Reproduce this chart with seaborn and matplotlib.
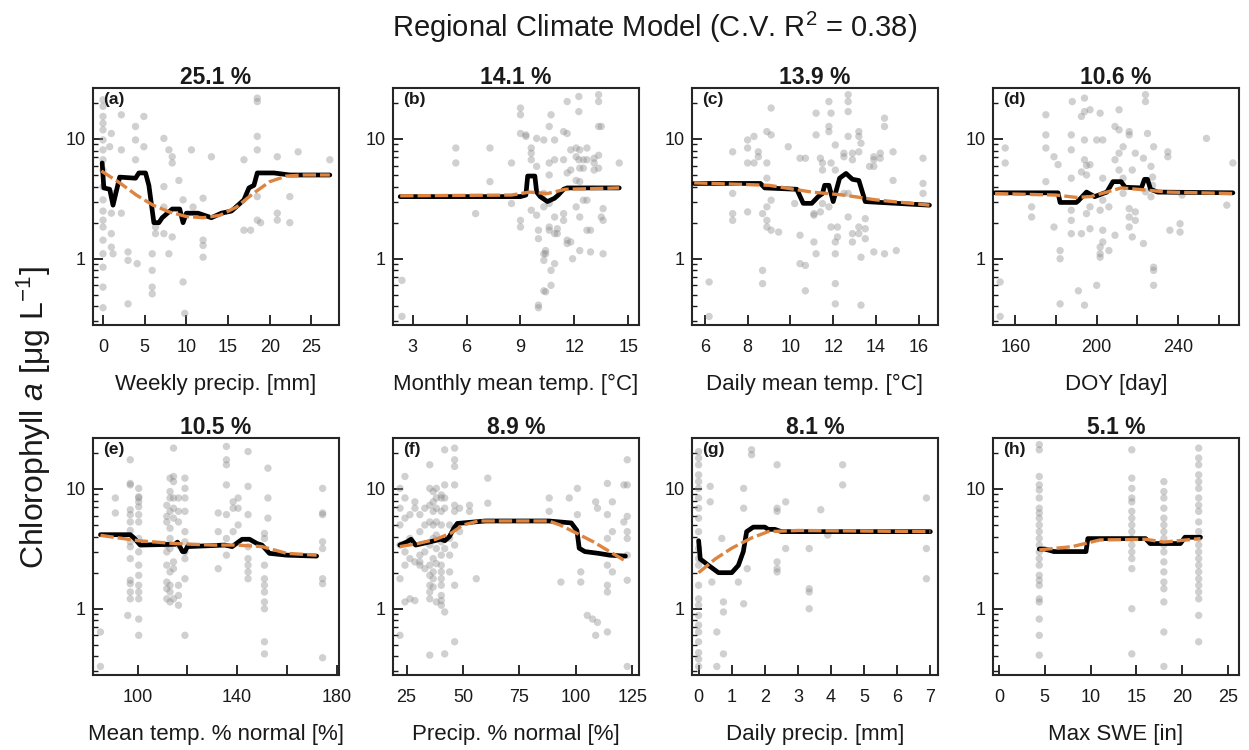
import numpy as np
import pandas as pd
import matplotlib
matplotlib.use("Agg")
import matplotlib.pyplot as plt
import seaborn as sns
from matplotlib.ticker import LogLocator, NullFormatter

# ---------------- data ----------------
SUPTITLE = "Regional Climate Model (C.V. R$^2$ = 0.38)"
YLABEL = "Chlorophyll $a$ [μg L$^{-1}$]"
LETTERS = ["(a)", "(b)", "(c)", "(d)", "(e)", "(f)", "(g)", "(h)"]
IMPORTANCE = ["25.1 %", "14.1 %", "13.9 %", "10.6 %", "10.5 %", "8.9 %", "8.1 %", "5.1 %"]
XLABELS = ["Weekly precip. [mm]", "Monthly mean temp. [°C]", "Daily mean temp. [°C]", "DOY [day]",
           "Mean temp. % normal [%]", "Precip. % normal [%]", "Daily precip. [mm]", "Max SWE [in]"]
XTICKS = [[0, 5, 10, 15, 20, 25], [3, 6, 9, 12, 15], [6, 8, 10, 12, 14, 16],
          [160, 180, 200, 220, 240, 260], [100, 120, 140, 160, 180], [25, 50, 75, 100, 125],
          [0, 1, 2, 3, 4, 5, 6, 7], [0, 5, 10, 15, 20, 25]]
XTICKLABELS = [["0", "5", "10", "15", "20", "25"], ["3", "6", "9", "12", "15"],
               ["6", "8", "10", "12", "14", "16"], ["160", "", "200", "", "240", ""],
               ["100", "", "140", "", "180"], ["25", "50", "75", "100", "125"],
               ["0", "1", "2", "3", "4", "5", "6", "7"], ["0", "5", "10", "15", "20", "25"]]

# observations: (x value, [chlorophyll values at that x])
A_PTS = [(0.0, [21.2, 18.7, 15.4, 13.5, 11.9, 9.8, 8.1, 6.7, 5.5, 4.0, 3.1, 2.5, 2.1, 1.84, 1.43, 1.10, 0.85, 0.58, 0.39]),
         (1.0, [11.1, 2.4, 1.62, 1.25]), (0.8, [8.6]), (1.2, [3.5, 1.10]),
         (2.2, [15.9, 8.1, 2.4]), (3.0, [1.14, 0.97, 0.42]), (3.9, [12.7, 9.8, 6.7]), (4.1, [0.91]),
         (4.9, [15.4, 8.6]), (5.9, [1.10, 0.80, 0.58, 0.51]), (6.3, [1.84, 1.62]),
         (7.3, [10.1, 4.0, 2.7, 1.62]), (7.9, [8.1, 1.10]), (8.3, [7.1, 6.3, 1.52]), (9.1, [4.5]),
         (9.6, [3.1, 0.64]), (9.8, [0.35]), (10.6, [8.1]), (10.8, [2.7]), (12.0, [3.2, 1.43, 1.29, 1.03]),
         (13.0, [7.1]), (16.9, [6.7, 1.73]), (17.7, [1.73]), (18.5, [21.9, 20.5, 10.5, 8.1, 3.3, 2.1]),
         (18.9, [2.0]), (20.9, [7.1, 2.4, 2.1]), (22.4, [3.3, 2.0]), (23.4, [7.8]), (27.2, [6.7])]
B_PTS = [(2.4, [0.66, 0.33]), (5.4, [8.4, 6.3]), (6.5, [2.38]), (7.3, [8.4, 4.4]), (8.5, [6.3, 2.89]),
         (9.0, [18.1, 15.9, 11.1, 2.09, 1.84]), (9.3, [10.8, 10.5]), (9.6, [8.4, 7.6, 6.7, 2.54]),
         (9.9, [10.1, 5.9, 2.31]), (10.0, [1.73, 1.47, 0.41, 0.39]), (10.3, [9.8, 3.51, 2.71, 1.10, 0.97, 0.54]),
         (10.4, [1.17, 1.10, 0.53]), (10.6, [12.7, 6.3, 5.0, 2.89, 1.84, 1.73]), (10.7, [15.9, 0.80, 0.60]),
         (10.9, [9.8, 6.7, 2.23, 1.62, 0.91]), (11.05, [1.78, 1.62]), (11.4, [11.5, 6.7, 2.38, 2.09]),
         (11.6, [20.5, 11.1, 5.2, 1.43, 1.34]), (11.8, [8.1, 5.5, 1.38]), (11.9, [1.00]),
         (12.1, [8.4, 7.1, 4.5, 2.71]), (12.25, [22.6, 16.9, 6.7]), (12.3, [8.1, 5.7, 4.4, 2.23, 1.17]),
         (12.5, [6.7, 5.7, 3.08]), (12.7, [8.4, 6.7, 3.08, 1.73]), (12.9, [1.73, 1.14]), (13.1, [6.9, 6.3, 5.5]),
         (13.35, [23.4, 20.5, 12.7, 7.3, 5.7]), (13.5, [12.7, 2.23]), (13.6, [1.10, 2.62, 2.09]), (14.5, [6.3])]
C_PTS = [(6.2, [0.64, 0.33]), (7.3, [7.8, 3.51, 2.38, 2.09]), (8.0, [9.8, 8.4, 6.3, 2.46]), (8.3, [10.5, 6.3]),
         (8.5, [7.8, 7.1]), (8.7, [2.38, 0.80, 0.62]), (8.9, [11.5, 6.3, 4.7, 2.71, 2.09, 1.84]),
         (9.1, [18.1, 10.8, 3.08, 1.73]), (9.45, [1.67]), (9.9, [8.6]), (10.2, [2.89]), (10.45, [6.9, 1.57, 0.91]),
         (10.7, [6.9, 0.88, 0.54]), (11.1, [2.38, 2.31, 1.38]), (11.2, [16.4, 10.8, 1.10]), (11.4, [6.9, 2.46]),
         (11.5, [6.3, 5.5, 2.89]), (11.8, [20.5, 12.7, 11.5, 2.71]), (11.9, [16.4, 6.3, 1.84]),
         (12.1, [8.9, 5.5, 1.38, 1.10, 0.62, 0.42]), (12.2, [1.84, 1.52]), (12.5, [7.6, 7.1, 3.51]),
         (12.7, [23.4, 20.5, 16.9, 10.5, 3.51, 2.23]), (12.9, [7.6, 6.7, 1.62, 1.38]),
         (13.2, [11.5, 10.5, 7.8, 1.84, 1.62]), (13.3, [9.2, 1.03, 0.41]), (13.5, [1.47, 1.78, 2.16]), (13.7, [5.9]),
         (13.9, [7.1, 6.7, 5.9, 1.14]), (14.2, [7.6, 6.9]), (14.4, [14.9, 12.7, 1.10]), (14.8, [7.8, 4.5]),
         (14.95, [1.17]), (16.2, [6.9, 4.25, 3.51])]
D_PTS = [(152.5, [0.64, 0.33]), (155, [8.4, 6.3]), (168, [2.71, 2.23]), (175, [15.9, 10.8, 8.4, 4.4]),
         (179, [7.1, 1.84]), (181, [6.1]), (182, [1.17, 1.00, 0.42]), (187.5, [10.8, 8.1, 4.7, 2.54, 2.09, 1.62]),
         (188, [20.5]), (191, [0.54]), (192.5, [15.4, 5.3, 1.62]), (194, [21.9, 16.9, 9.8, 6.7, 0.41]),
         (195, [6.0, 5.0, 2.38]), (196.7, [17.5, 6.1, 2.71, 1.78]), (200, [9.8, 0.60]),
         (201.7, [16.4, 2.54, 1.25, 1.10, 1.03]), (203, [9.8, 4.7, 3.08, 1.73, 1.38]), (206, [2.71, 1.17]),
         (209, [12.7, 6.7, 1.57]), (211, [17.5, 11.9, 7.6, 5.5]), (213, [8.6, 4.7, 3.51]),
         (216, [11.5, 10.8, 2.62, 2.23, 1.84]), (217.5, [5.5, 1.52]), (219, [7.6, 2.46, 2.09]), (223, [6.9, 1.34]),
         (224, [23.4, 20.5, 3.62]), (225, [11.1]), (226.7, [5.9, 3.29]), (227.5, [4.8, 4.1]),
         (228, [8.6, 0.85, 0.80, 0.60]), (235, [7.8, 7.1]), (236, [1.73]), (241, [1.96, 1.67]), (242, [3.40]),
         (254, [10.1]), (264, [2.80]), (267, [6.3])]
E_PTS = [(85, [0.64, 0.33]), (91, [8.4, 6.3]), (96, [0.88]),
         (97, [17.5, 11.1, 10.8, 6.7, 6.1, 5.3, 4.5, 3.62, 3.29, 2.62, 1.73, 1.62, 1.38, 1.21]),
         (100.4, [10.1, 8.6, 8.4, 7.8, 7.1, 6.1, 5.3, 3.86, 2.98, 2.31, 1.90, 1.57, 1.38, 1.21, 0.82, 0.60]),
         (111.7, [7.3, 5.9, 5.3, 3.40, 2.98, 2.31, 1.67, 1.47, 1.21]),
         (113, [12.3, 9.5, 8.4, 6.5, 4.7, 3.86, 3.18, 2.03, 1.57, 1.38, 1.14]),
         (114.4, [21.9, 12.7, 11.5, 8.4, 6.9, 5.7, 2.46, 2.16, 1.21]),
         (116.4, [8.4, 6.5, 5.3, 3.40, 1.57, 1.29, 1.07]),
         (119, [12.3, 10.1, 8.4, 6.5, 4.4, 3.62, 2.98, 2.62, 1.78, 0.60]),
         (132.4, [6.3, 4.4, 2.16]), (135.7, [22.6, 17.5, 15.9, 10.8, 6.1, 3.86, 2.80]), (138.4, [7.8, 6.9, 4.4]),
         (140.4, [8.4, 6.9, 5.0]), (144.4, [20.5, 10.5, 6.1, 3.29, 2.62, 2.31, 2.03, 1.78]),
         (151, [4.25, 3.86, 2.31, 1.78, 1.57, 1.38, 1.14, 1.00, 0.53, 0.42]), (152.4, [14.9, 8.4, 5.7]),
         (174.4, [10.1, 6.3, 6.1, 3.62, 3.18, 1.78, 1.62, 0.39])]
F_PTS = [(22.1, [10.1, 6.9, 5.0, 3.40, 1.78, 0.60]), (24.3, [12.7, 8.4, 5.7, 2.98, 2.31, 1.14]),
         (26.5, [6.1, 3.86, 2.62, 1.21]), (28.7, [7.8, 6.9, 2.46, 1.17]), (30.9, [6.1, 4.4, 2.80, 2.46, 2.31]),
         (33.1, [6.9, 5.0, 2.98, 2.16]), (35.3, [15.9, 10.1, 7.3, 5.3, 3.40, 2.31, 1.90, 1.57, 1.38, 1.21, 0.41]),
         (36.8, [9.5, 7.8, 6.5, 5.0, 3.86, 2.62, 2.03, 1.78, 1.52]),
         (38.2, [10.1, 8.4, 6.9, 5.3, 4.12, 3.18, 2.38, 1.14]),
         (40.4, [8.9, 8.4, 6.5, 5.0, 3.62, 2.80, 2.31, 2.03, 1.78, 1.57, 1.29, 1.17, 1.07]),
         (41.9, [21.2, 10.8, 8.4, 6.9, 3.18, 0.94, 0.42]), (44.1, [5.0, 3.86, 2.80, 2.03]),
         (46.3, [21.9, 17.5, 15.4, 10.8, 7.3, 6.5, 4.7, 3.40, 1.57, 0.53]), (48.5, [6.9, 4.4]), (52.9, [7.3, 6.5]),
         (55.9, [1.78]), (61.0, [12.3, 7.6]), (88.2, [8.4, 6.5]), (93.4, [1.67]), (97.1, [8.4]),
         (100.7, [10.1, 6.1]), (102.2, [2.03, 1.67]), (105.1, [0.88]), (107.4, [0.82]), (108.8, [7.8, 0.60]),
         (109.6, [6.9, 0.77]), (114, [11.1, 6.1, 3.86, 2.31, 1.57, 1.38, 0.64]), (116.2, [7.8, 4.4, 2.03]),
         (121.3, [10.8, 5.3]), (122.8, [17.5, 10.8, 5.9, 4.4, 3.86, 2.80, 1.73, 0.33])]
G_PTS = [(0.0, [20.5, 18.1, 15.9, 13.1, 11.5, 10.1, 8.4, 6.9, 5.7, 4.4, 3.18, 2.62, 2.31, 1.57, 1.21, 1.07,
                0.88, 0.73, 0.64, 0.53, 0.43, 0.38, 0.33]),
         (0.35, [10.5, 7.8]), (0.4, [1.67]), (0.55, [0.64, 0.33]), (0.7, [3.86]), (0.75, [1.14, 0.94, 0.42]),
         (1.2, [1.67]), (1.36, [10.1, 6.9, 1.10]), (1.47, [2.16]), (1.6, [21.2, 19.3]),
         (2.37, [15.9, 6.9, 6.5, 2.46, 2.16, 2.03]), (2.63, [7.8, 3.18]), (3.34, [3.18, 1.47, 1.38, 1.00]),
         (3.69, [6.7]), (3.9, [4.12]), (4.35, [15.9, 10.8]), (6.88, [8.4, 3.18, 1.78])]
H_PTS = [(4.4, [23.4, 21.2, 12.7, 10.8, 9.8, 8.4, 6.9, 6.3, 5.7, 5.0, 4.4, 3.86, 3.40, 2.98, 2.62, 2.31, 1.90,
                1.73, 1.57, 1.21, 1.14, 0.82, 0.60, 0.41]),
         (14.5, [21.2, 12.3, 10.1, 8.4, 7.8, 6.5, 5.7, 5.0, 4.4, 3.86, 3.40, 2.98, 2.62, 2.16, 1.00, 0.42]),
         (18.0, [11.5, 9.5, 8.4, 6.9, 5.7, 5.0, 4.4, 3.86, 3.40, 2.98, 2.46, 2.03, 1.67, 1.47, 1.14, 0.64, 0.33]),
         (21.8, [21.9, 18.1, 15.9, 13.1, 11.5, 10.1, 8.4, 7.3, 6.5, 5.3, 4.4, 3.86, 3.40, 2.98, 2.62, 2.31, 2.03,
                 1.78, 1.57, 1.38, 1.21, 0.88, 0.53])]

# partial dependence (black) and smoothed fit (orange dashed)
A_PD_X = [-0.1, 0.1, 0.8, 1.2, 2.0, 3.9, 4.3, 5.1, 5.5, 6.1, 6.7, 7.1, 8.3, 9.2, 9.6, 10.0, 11.4, 13.0, 14.2, 15.4, 16.9, 17.5, 18.1, 18.5, 20.5, 22.4, 27.2]
A_PD_Y = [6.3, 3.9, 3.8, 2.8, 4.8, 4.7, 5.2, 5.2, 4.1, 2.0, 2.0, 2.2, 2.6, 2.6, 2.0, 2.4, 2.4, 2.2, 2.4, 2.5, 3.1, 3.9, 4.1, 5.2, 5.2, 5.0, 5.0]
A_SM_X = [-0.2, 2, 4, 6, 8, 10, 12, 14, 16, 18, 20, 22, 24, 27.2]
A_SM_Y = [5.4, 4.3, 3.4, 2.8, 2.45, 2.25, 2.2, 2.3, 2.7, 3.5, 4.4, 4.9, 5.0, 5.0]
B_PD_X = [2.3, 9.0, 9.3, 9.4, 9.8, 9.9, 10.1, 10.5, 10.9, 11.1, 11.4, 11.6, 14.5]
B_PD_Y = [3.3, 3.3, 3.4, 4.9, 4.9, 3.6, 3.3, 3.0, 3.2, 3.4, 3.8, 3.9, 3.9]
B_SM_X = [2.3, 8.5, 9.5, 10.5, 11.5, 14.5]
B_SM_Y = [3.35, 3.4, 3.6, 3.5, 3.8, 3.9]
C_PD_X = [5.5, 8.6, 8.8, 10.3, 10.6, 11.0, 11.3, 11.5, 11.6, 11.8, 12.0, 12.3, 12.6, 12.9, 13.2, 13.5, 14.2, 16.5]
C_PD_Y = [4.25, 4.25, 3.9, 3.8, 2.9, 2.9, 3.3, 3.5, 4.1, 4.1, 3.0, 4.7, 5.15, 4.6, 4.5, 3.0, 2.95, 2.8]
C_SM_X = [5.5, 9, 11, 12.5, 14, 16.5]
C_SM_Y = [4.3, 4.1, 3.6, 3.4, 3.1, 2.8]
D_PD_X = [150, 181, 182, 190, 191, 195, 199, 203, 205, 208, 212, 214, 222, 223.5, 225, 226.5, 230, 267]
D_PD_Y = [3.55, 3.55, 2.95, 2.95, 3.05, 3.6, 3.3, 3.5, 3.6, 4.4, 4.4, 3.95, 3.9, 4.6, 4.6, 3.8, 3.6, 3.55]
D_SM_X = [150, 180, 190, 197, 205, 212, 220, 235, 267]
D_SM_Y = [3.5, 3.4, 3.25, 3.3, 3.6, 3.9, 3.8, 3.6, 3.5]
E_PD_X = [85, 97, 98.5, 101, 115, 116, 118, 119, 120, 135, 138, 142, 145, 148, 150, 153, 160, 172]
E_PD_Y = [4.15, 4.15, 3.9, 3.4, 3.45, 3.6, 3.0, 3.0, 3.3, 3.4, 3.3, 3.8, 3.8, 3.5, 3.4, 2.9, 2.8, 2.75]
E_SM_X = [85, 100, 115, 130, 140, 150, 160, 172]
E_SM_Y = [4.1, 3.7, 3.5, 3.4, 3.4, 3.3, 2.9, 2.8]
F_PD_X = [22, 25, 27, 29, 35, 40, 42, 44, 46, 47.5, 55, 60, 88, 98, 100.5, 101.5, 104, 110, 115, 122]
F_PD_Y = [3.4, 3.6, 3.8, 3.4, 3.6, 3.8, 3.7, 4.0, 4.7, 5.15, 5.3, 5.4, 5.4, 5.2, 4.5, 3.2, 3.0, 2.9, 2.8, 2.75]
F_SM_X = [22, 30, 38, 45, 50, 57, 88, 93, 100, 108, 115, 122]
F_SM_Y = [3.3, 3.5, 3.8, 4.3, 5.0, 5.4, 5.4, 5.0, 4.3, 3.6, 3.0, 2.5]
G_PD_X = [0.0, 0.05, 0.3, 0.6, 1.0, 1.2, 1.35, 1.45, 1.65, 2.0, 2.1, 2.3, 2.5, 7.0]
G_PD_Y = [3.7, 2.6, 2.3, 2.0, 2.0, 2.3, 3.0, 4.4, 4.8, 4.8, 4.6, 4.6, 4.4, 4.4]
G_SM_X = [0.0, 0.5, 1.0, 1.6, 2.1, 3.0, 7.0]
G_SM_Y = [2.0, 2.6, 3.2, 3.9, 4.4, 4.5, 4.4]
H_PD_X = [4.4, 5.0, 6.0, 9.5, 9.7, 16.0, 16.5, 19.8, 20.3, 22.0]
H_PD_Y = [3.15, 3.15, 3.0, 3.0, 3.85, 3.85, 3.5, 3.5, 3.95, 3.95]
H_SM_X = [4.4, 8, 11, 16, 18, 22]
H_SM_Y = [3.1, 3.3, 3.75, 3.8, 3.6, 3.85]

PTS = [A_PTS, B_PTS, C_PTS, D_PTS, E_PTS, F_PTS, G_PTS, H_PTS]
PD = [(A_PD_X, A_PD_Y), (B_PD_X, B_PD_Y), (C_PD_X, C_PD_Y), (D_PD_X, D_PD_Y),
      (E_PD_X, E_PD_Y), (F_PD_X, F_PD_Y), (G_PD_X, G_PD_Y), (H_PD_X, H_PD_Y)]
SM = [(A_SM_X, A_SM_Y), (B_SM_X, B_SM_Y), (C_SM_X, C_SM_Y), (D_SM_X, D_SM_Y),
      (E_SM_X, E_SM_Y), (F_SM_X, F_SM_Y), (G_SM_X, G_SM_Y), (H_SM_X, H_SM_Y)]

# ---------------- layout / style ----------------
XLIMS = [(-1.2, 28.3), (1.9, 15.6), (5.4, 16.9), (149, 270), (82, 181), (19, 128), (-0.2, 7.23), (-0.65, 26.2)]
YLIM = (0.28, 26.6)
W, H = 1249, 750
LEFTS = [93, 393, 692, 993]
TOPS = [88, 438]
AX_W, AX_H = 246, 237

sns.set_style("ticks")
plt.rcParams["font.family"] = ["Liberation Sans", "DejaVu Sans"]
plt.rcParams["mathtext.fontset"] = "custom"
plt.rcParams["mathtext.rm"] = "Liberation Sans"
plt.rcParams["mathtext.it"] = "Liberation Sans:italic"
plt.rcParams["mathtext.bf"] = "Liberation Sans:bold"

fig = plt.figure(figsize=(W / 100, H / 100), dpi=100)

for i in range(8):
    r, c = divmod(i, 4)
    ax = fig.add_axes([LEFTS[c] / W, 1 - (TOPS[r] + AX_H) / H, AX_W / W, AX_H / H])
    xs, ys = [], []
    for xv, yl in PTS[i]:
        for yv in yl:
            xs.append(xv)
            ys.append(yv)
    df = pd.DataFrame({"x": xs, "y": ys})
    sns.scatterplot(data=df, x="x", y="y", ax=ax, color="#8f8f8f", alpha=0.42, s=28,
                    edgecolor="none", linewidth=0, zorder=2)
    pdx, pdy = PD[i]
    sns.lineplot(x=pdx, y=pdy, ax=ax, color="black", lw=3.4, sort=False, estimator=None, zorder=3)
    smx, smy = SM[i]
    sns.lineplot(x=smx, y=smy, ax=ax, color="#DD8440", lw=2.4, sort=False, estimator=None,
                 linestyle=(0, (4, 1.2)), zorder=4)

    ax.set_yscale("log")
    ax.set_ylim(*YLIM)
    ax.set_xlim(*XLIMS[i])
    ax.set_yticks([1, 10])
    ax.set_yticklabels(["1", "10"])
    ax.yaxis.set_minor_locator(LogLocator(base=10, subs=np.arange(2, 10)))
    ax.yaxis.set_minor_formatter(NullFormatter())
    ax.set_xticks(XTICKS[i])
    ax.set_xticklabels(XTICKLABELS[i])
    ax.tick_params(axis="both", which="major", direction="in", length=7, width=1.3,
                   labelsize=13, colors="#1a1a1a", top=False, right=False)
    ax.tick_params(axis="x", which="major", pad=10)
    ax.tick_params(axis="y", which="major", pad=5)
    ax.tick_params(axis="y", which="minor", direction="in", length=3.5, width=1.0, colors="#1a1a1a")
    ax.tick_params(axis="x", which="minor", bottom=False)
    for sp in ax.spines.values():
        sp.set_visible(True)
        sp.set_linewidth(1.5)
        sp.set_color("#262626")
    ax.set_xlabel(XLABELS[i], fontsize=16, labelpad=13, color="#1a1a1a")
    ax.set_ylabel("")
    ax.set_title(IMPORTANCE[i], fontsize=16.5, fontweight="bold", pad=3, color="#1a1a1a")
    ax.text(0.04, 0.985, LETTERS[i], transform=ax.transAxes, fontsize=12.5, fontweight="bold",
            va="top", ha="left", color="#1a1a1a")

fig.text(0.524, 0.963, SUPTITLE, fontsize=21, ha="center", va="center", color="#1a1a1a")
fig.text(0.027, 0.443, YLABEL, fontsize=23, rotation=90, ha="center", va="center", color="#1a1a1a")

fig.savefig("out.png", dpi=100, facecolor="white")
